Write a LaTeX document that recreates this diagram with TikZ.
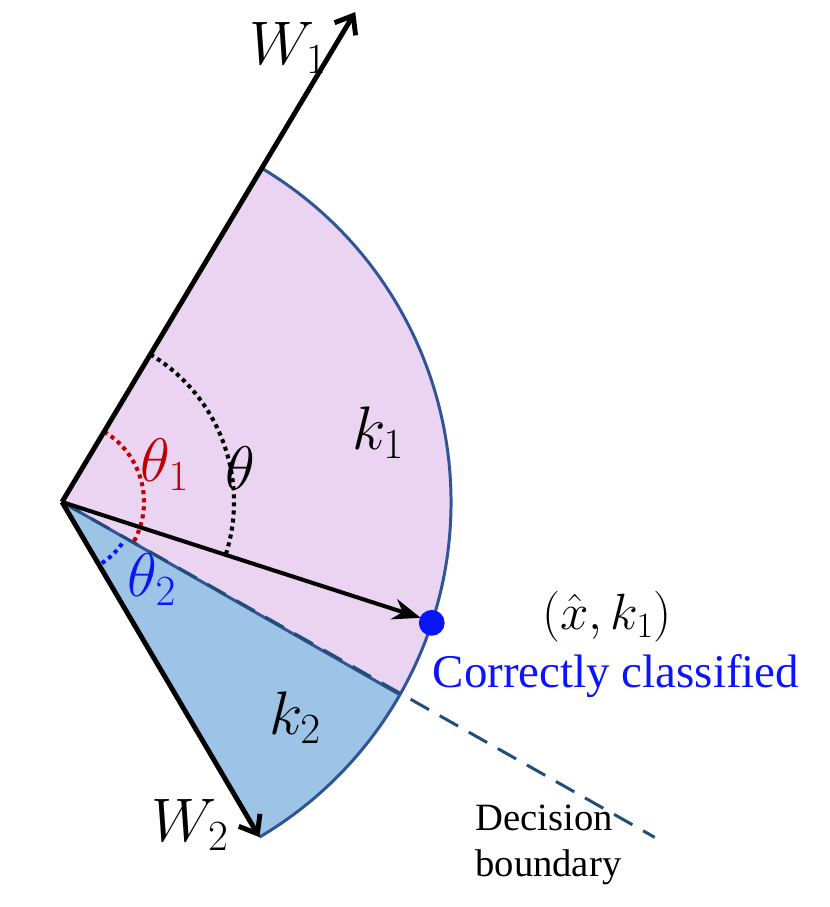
\RequirePackage{fix-cm}
\documentclass[tikz,border=0pt]{standalone}
\usepackage{fontspec}
\setmainfont{Liberation Serif}
\usepackage{tikz}
\usetikzlibrary{arrows.meta,positioning,calc}
\definecolor{secpink}{RGB}{235,211,242}
\definecolor{secblue}{RGB}{157,195,230}
\definecolor{secline}{RGB}{47,85,151}
\definecolor{bndline}{RGB}{31,78,121}
\definecolor{angred}{RGB}{192,0,0}
\definecolor{angblue}{RGB}{10,20,255}

\begin{document}
\begin{tikzpicture}[
    x=0.02cm, y=0.02cm,
    wvec/.style={line width=2.8pt, -{Straight Barb[length=9pt,width=14pt,line width=2.8pt]}},
    xvec/.style={line width=2.3pt, -{Stealth[length=16pt,width=12pt]}},
    angarc/.style={line width=2.3pt, dash pattern=on 2.3pt off 2.3pt},
    mathlbl/.style={font=\fontsize{35}{42}\selectfont},
    txtlbl/.style={font=\fontsize{22}{26}\selectfont, align=left}
  ]
    \useasboundingbox (0,0) rectangle (830,907);
    \coordinate (O) at (62,405);
    \coordinate (w1end) at ($(O)+(59.1:389)$);
    \coordinate (w1tip) at ($(O)+(59.1:571)$);
    \coordinate (w2tip) at ($(O)+(-59.5:389)$);
    \coordinate (bnd) at ($(O)+(-29.7:389)$);
    \coordinate (bndend) at ($(O)+(-29.5:681)$);
    \coordinate (xtip) at ($(O)+(-17.9:377)$);

    % Sector fills
    \fill[secpink] (O) -- (w1end) arc[start angle=59.1, end angle=-29.7, radius=389] -- cycle;
    \fill[secblue] (O) -- (bnd) arc[start angle=-29.7, end angle=-59.5, radius=389] -- cycle;
    \draw[secline, line width=1.7pt] (w1end) arc[start angle=59.1, end angle=-59.5, radius=389];

    % Decision boundary
    \draw[secline, line width=1.7pt] (O) -- (bnd);
    \draw[bndline, line width=1.7pt, dash pattern=on 12pt off 7pt] (O) -- (bndend);

    % Angle arcs
    \draw[angarc, black] ($(O)+(59.1:172)$) arc[start angle=59.1, end angle=-17.9, radius=172];
    \draw[angarc, angred] ($(O)+(59.1:82)$) arc[start angle=59.1, end angle=-29.7, radius=82];
    \draw[angarc, angblue] ($(O)+(-57:73)$) arc[start angle=-57, end angle=-33, radius=73];

    % Vectors
    \draw[wvec] (O) -- (w1tip);
    \draw[wvec] (O) -- (w2tip);
    \draw[xvec] (O) -- (xtip);
    \node[circle, fill=angblue, inner sep=0pt, minimum size=14.7pt] (xpt) at ($(O)+(-18.1:389)$) {};

    % Labels
    \node[mathlbl] (w1lbl) at (288,859) {$W_1$};
    \node[mathlbl] (w2lbl) at (190,82) {$W_2$};
    \node[mathlbl] (k1lbl) at (378,474) {$k_1$};
    \node[mathlbl] (k2lbl) at (295,189) {$k_2$};
    \node[mathlbl] (thlbl) at (240,439) {$\theta$};
    \node[mathlbl, text=angred] (th1lbl) at (165,442) {$\theta_1$};
    \node[mathlbl, text=angblue] (th2lbl) at (152,327) {$\theta_2$};
    \node[font=\fontsize{29}{34}\selectfont, inner sep=0pt] (ptlbl) at (607,290) {$(\hat{x},k_1)$};
    \node[font=\fontsize{26.7}{32}\selectfont, text=angblue, inner sep=0pt] (cclbl) at (616,231) {Correctly classified};
    \node[txtlbl, anchor=west, inner sep=0pt] (dblbl) at (475,62) {Decision\\boundary};
  \end{tikzpicture}
\end{document}
